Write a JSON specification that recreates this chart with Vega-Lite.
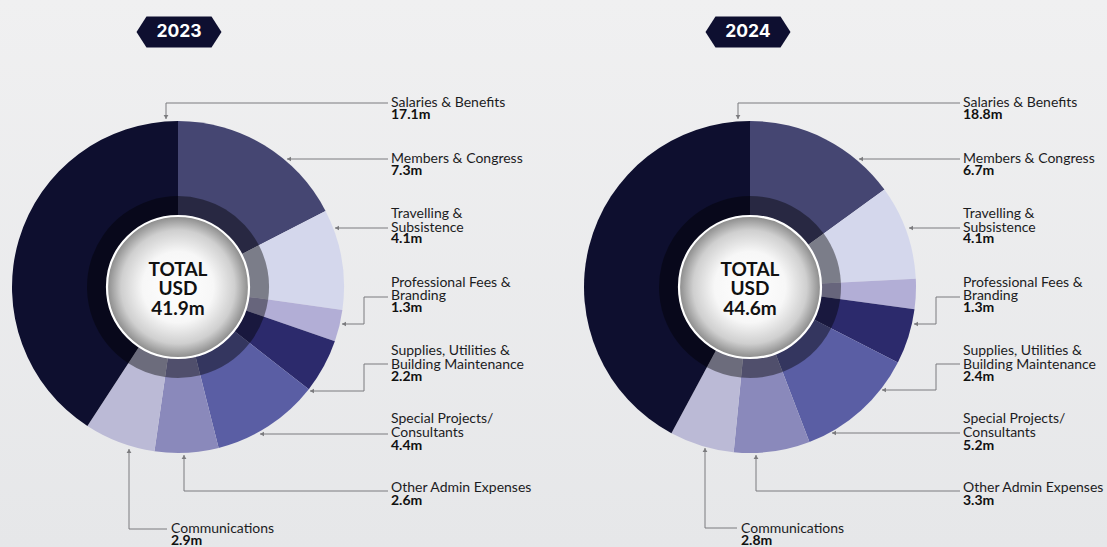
{
  "$schema": "https://vega.github.io/schema/vega-lite/v6.json",
  "background": "#ecedee",
  "padding": 0,
  "spacing": 0,
  "config": {
    "view": {"stroke": null, "fill": {"gradient": "linear", "x1": 0, "y1": 0, "x2": 0, "y2": 1, "stops": [{"offset": 0, "color": "#f0f0f1"}, {"offset": 1, "color": "#e6e7e9"}]}},
    "text": {"font": "Lato"}
  },
  "datasets": {
    "slices": [
      {"year": 2023, "cat": "Members & Congress", "ord": 1, "value": 7.3},
      {"year": 2023, "cat": "Travelling & Subsistence", "ord": 2, "value": 4.1},
      {"year": 2023, "cat": "Professional Fees & Branding", "ord": 3, "value": 1.3},
      {"year": 2023, "cat": "Supplies, Utilities & Building Maintenance", "ord": 4, "value": 2.2},
      {"year": 2023, "cat": "Special Projects/Consultants", "ord": 5, "value": 4.4},
      {"year": 2023, "cat": "Other Admin Expenses", "ord": 6, "value": 2.6},
      {"year": 2023, "cat": "Communications", "ord": 7, "value": 2.9},
      {"year": 2023, "cat": "Salaries & Benefits", "ord": 8, "value": 17.1},
      {"year": 2024, "cat": "Members & Congress", "ord": 1, "value": 6.7},
      {"year": 2024, "cat": "Travelling & Subsistence", "ord": 2, "value": 4.1},
      {"year": 2024, "cat": "Professional Fees & Branding", "ord": 3, "value": 1.3},
      {"year": 2024, "cat": "Supplies, Utilities & Building Maintenance", "ord": 4, "value": 2.4},
      {"year": 2024, "cat": "Special Projects/Consultants", "ord": 5, "value": 5.2},
      {"year": 2024, "cat": "Other Admin Expenses", "ord": 6, "value": 3.3},
      {"year": 2024, "cat": "Communications", "ord": 7, "value": 2.8},
      {"year": 2024, "cat": "Salaries & Benefits", "ord": 8, "value": 18.8}
    ],
    "totals": [
      {"year": 2023, "badge": "2023", "bx": 1, "by": -255, "label": "TOTAL\nUSD\n41.9m"},
      {"year": 2024, "badge": "2024", "bx": -2, "by": -255, "label": "TOTAL\nUSD\n44.6m"}
    ],
    "labels": [
      {"year": 2023, "cat": "Salaries & Benefits", "name": "Salaries & Benefits", "val": "17.1m", "lx": 213, "ny": -185, "vy": -172},
      {"year": 2023, "cat": "Members & Congress", "name": "Members & Congress", "val": "7.3m", "lx": 213, "ny": -129, "vy": -116},
      {"year": 2023, "cat": "Travelling & Subsistence", "name": "Travelling &\nSubsistence", "val": "4.1m", "lx": 213, "ny": -74, "vy": -48},
      {"year": 2023, "cat": "Professional Fees & Branding", "name": "Professional Fees &\nBranding", "val": "1.3m", "lx": 213, "ny": -5.5, "vy": 21},
      {"year": 2023, "cat": "Supplies, Utilities & Building Maintenance", "name": "Supplies, Utilities &\nBuilding Maintenance", "val": "2.2m", "lx": 213, "ny": 63, "vy": 90},
      {"year": 2023, "cat": "Special Projects/Consultants", "name": "Special Projects/\nConsultants", "val": "4.4m", "lx": 213, "ny": 131, "vy": 159},
      {"year": 2023, "cat": "Other Admin Expenses", "name": "Other Admin Expenses", "val": "2.6m", "lx": 213, "ny": 200, "vy": 214},
      {"year": 2023, "cat": "Communications", "name": "Communications", "val": "2.9m", "lx": -7, "ny": 241, "vy": 254},
      {"year": 2024, "cat": "Salaries & Benefits", "name": "Salaries & Benefits", "val": "18.8m", "lx": 213, "ny": -185, "vy": -172},
      {"year": 2024, "cat": "Members & Congress", "name": "Members & Congress", "val": "6.7m", "lx": 213, "ny": -129, "vy": -116},
      {"year": 2024, "cat": "Travelling & Subsistence", "name": "Travelling &\nSubsistence", "val": "4.1m", "lx": 213, "ny": -74, "vy": -48},
      {"year": 2024, "cat": "Professional Fees & Branding", "name": "Professional Fees &\nBranding", "val": "1.3m", "lx": 213, "ny": -5.5, "vy": 21},
      {"year": 2024, "cat": "Supplies, Utilities & Building Maintenance", "name": "Supplies, Utilities &\nBuilding Maintenance", "val": "2.4m", "lx": 213, "ny": 63, "vy": 90},
      {"year": 2024, "cat": "Special Projects/Consultants", "name": "Special Projects/\nConsultants", "val": "5.2m", "lx": 213, "ny": 131, "vy": 159},
      {"year": 2024, "cat": "Other Admin Expenses", "name": "Other Admin Expenses", "val": "3.3m", "lx": 213, "ny": 200, "vy": 214},
      {"year": 2024, "cat": "Communications", "name": "Communications", "val": "2.8m", "lx": -9, "ny": 241, "vy": 254}
    ],
    "leaders": [
      {"year": 2023, "cat": "Salaries & Benefits", "seq": 1, "x": 210, "y": -184},
      {"year": 2023, "cat": "Salaries & Benefits", "seq": 2, "x": -12, "y": -184},
      {"year": 2023, "cat": "Salaries & Benefits", "seq": 3, "x": -12, "y": -168},
      {"year": 2023, "cat": "Members & Congress", "seq": 1, "x": 210, "y": -128},
      {"year": 2023, "cat": "Members & Congress", "seq": 2, "x": 109, "y": -128},
      {"year": 2023, "cat": "Travelling & Subsistence", "seq": 1, "x": 210, "y": -59},
      {"year": 2023, "cat": "Travelling & Subsistence", "seq": 2, "x": 157, "y": -59},
      {"year": 2023, "cat": "Professional Fees & Branding", "seq": 1, "x": 210, "y": 10},
      {"year": 2023, "cat": "Professional Fees & Branding", "seq": 2, "x": 186, "y": 10},
      {"year": 2023, "cat": "Professional Fees & Branding", "seq": 3, "x": 186, "y": 37},
      {"year": 2023, "cat": "Professional Fees & Branding", "seq": 4, "x": 164, "y": 37},
      {"year": 2023, "cat": "Supplies, Utilities & Building Maintenance", "seq": 1, "x": 210, "y": 77},
      {"year": 2023, "cat": "Supplies, Utilities & Building Maintenance", "seq": 2, "x": 186, "y": 77},
      {"year": 2023, "cat": "Supplies, Utilities & Building Maintenance", "seq": 3, "x": 186, "y": 104},
      {"year": 2023, "cat": "Supplies, Utilities & Building Maintenance", "seq": 4, "x": 132, "y": 104},
      {"year": 2023, "cat": "Special Projects/Consultants", "seq": 1, "x": 210, "y": 147},
      {"year": 2023, "cat": "Special Projects/Consultants", "seq": 2, "x": 82, "y": 147},
      {"year": 2023, "cat": "Other Admin Expenses", "seq": 1, "x": 210, "y": 204},
      {"year": 2023, "cat": "Other Admin Expenses", "seq": 2, "x": 6, "y": 204},
      {"year": 2023, "cat": "Other Admin Expenses", "seq": 3, "x": 6, "y": 168},
      {"year": 2023, "cat": "Communications", "seq": 1, "x": -11, "y": 242},
      {"year": 2023, "cat": "Communications", "seq": 2, "x": -49, "y": 242},
      {"year": 2023, "cat": "Communications", "seq": 3, "x": -49, "y": 162},
      {"year": 2024, "cat": "Salaries & Benefits", "seq": 1, "x": 210, "y": -184},
      {"year": 2024, "cat": "Salaries & Benefits", "seq": 2, "x": -12, "y": -184},
      {"year": 2024, "cat": "Salaries & Benefits", "seq": 3, "x": -12, "y": -168},
      {"year": 2024, "cat": "Members & Congress", "seq": 1, "x": 210, "y": -128},
      {"year": 2024, "cat": "Members & Congress", "seq": 2, "x": 109, "y": -128},
      {"year": 2024, "cat": "Travelling & Subsistence", "seq": 1, "x": 210, "y": -59},
      {"year": 2024, "cat": "Travelling & Subsistence", "seq": 2, "x": 159, "y": -59},
      {"year": 2024, "cat": "Professional Fees & Branding", "seq": 1, "x": 210, "y": 10},
      {"year": 2024, "cat": "Professional Fees & Branding", "seq": 2, "x": 186, "y": 10},
      {"year": 2024, "cat": "Professional Fees & Branding", "seq": 3, "x": 186, "y": 37},
      {"year": 2024, "cat": "Professional Fees & Branding", "seq": 4, "x": 164, "y": 37},
      {"year": 2024, "cat": "Supplies, Utilities & Building Maintenance", "seq": 1, "x": 210, "y": 77},
      {"year": 2024, "cat": "Supplies, Utilities & Building Maintenance", "seq": 2, "x": 186, "y": 77},
      {"year": 2024, "cat": "Supplies, Utilities & Building Maintenance", "seq": 3, "x": 186, "y": 103},
      {"year": 2024, "cat": "Supplies, Utilities & Building Maintenance", "seq": 4, "x": 132, "y": 103},
      {"year": 2024, "cat": "Special Projects/Consultants", "seq": 1, "x": 210, "y": 146},
      {"year": 2024, "cat": "Special Projects/Consultants", "seq": 2, "x": 82, "y": 146},
      {"year": 2024, "cat": "Other Admin Expenses", "seq": 1, "x": 210, "y": 204},
      {"year": 2024, "cat": "Other Admin Expenses", "seq": 2, "x": 6, "y": 204},
      {"year": 2024, "cat": "Other Admin Expenses", "seq": 3, "x": 6, "y": 168},
      {"year": 2024, "cat": "Communications", "seq": 1, "x": -13, "y": 241},
      {"year": 2024, "cat": "Communications", "seq": 2, "x": -45, "y": 241},
      {"year": 2024, "cat": "Communications", "seq": 3, "x": -45, "y": 161}
    ],
    "arrows": [
      {"year": 2023, "cat": "Salaries & Benefits", "dir": "down", "x": -12, "y": -170},
      {"year": 2023, "cat": "Members & Congress", "dir": "left", "x": 111, "y": -128},
      {"year": 2023, "cat": "Travelling & Subsistence", "dir": "left", "x": 159, "y": -59},
      {"year": 2023, "cat": "Professional Fees & Branding", "dir": "left", "x": 166, "y": 37},
      {"year": 2023, "cat": "Supplies, Utilities & Building Maintenance", "dir": "left", "x": 134, "y": 104},
      {"year": 2023, "cat": "Special Projects/Consultants", "dir": "left", "x": 84, "y": 147},
      {"year": 2023, "cat": "Other Admin Expenses", "dir": "up", "x": 6, "y": 170},
      {"year": 2023, "cat": "Communications", "dir": "up", "x": -49, "y": 164},
      {"year": 2024, "cat": "Salaries & Benefits", "dir": "down", "x": -12, "y": -170},
      {"year": 2024, "cat": "Members & Congress", "dir": "left", "x": 111, "y": -128},
      {"year": 2024, "cat": "Travelling & Subsistence", "dir": "left", "x": 161, "y": -59},
      {"year": 2024, "cat": "Professional Fees & Branding", "dir": "left", "x": 166, "y": 37},
      {"year": 2024, "cat": "Supplies, Utilities & Building Maintenance", "dir": "left", "x": 134, "y": 103},
      {"year": 2024, "cat": "Special Projects/Consultants", "dir": "left", "x": 84, "y": 146},
      {"year": 2024, "cat": "Other Admin Expenses", "dir": "up", "x": 6, "y": 170},
      {"year": 2024, "cat": "Communications", "dir": "up", "x": -45, "y": 163}
    ]
  },
  "hconcat": [
    {
      "width": 572,
      "height": 547,
      "layer": [
        {
          "data": {"name": "slices"},
          "transform": [{"filter": "datum.year == 2023"}],
          "mark": {"type": "arc", "outerRadius": 166},
          "encoding": {
            "theta": {"field": "value", "type": "quantitative", "stack": true},
            "order": {"field": "ord", "type": "quantitative"},
            "color": {"field": "cat", "type": "nominal", "legend": null, "scale": {"domain": ["Members & Congress", "Travelling & Subsistence", "Professional Fees & Branding", "Supplies, Utilities & Building Maintenance", "Special Projects/Consultants", "Other Admin Expenses", "Communications", "Salaries & Benefits"], "range": ["#454672", "#d4d7ec", "#b2aed6", "#2c2a6c", "#5a5ea4", "#8a89bb", "#bbbad6", "#0e0f2f"]}},
            "x": {"datum": 0, "type": "quantitative", "scale": {"domain": [-178, 394], "nice": false, "zero": false}, "axis": null},
            "y": {"datum": 0, "type": "quantitative", "scale": {"domain": [-287, 260], "nice": false, "zero": false, "reverse": true}, "axis": null}
          }
        },
        {
          "data": {"name": "slices"},
          "transform": [{"filter": "datum.year == 2023"}],
          "mark": {"type": "arc", "outerRadius": 91, "color": "#000000", "opacity": 0.42},
          "encoding": {
            "theta": {"field": "value", "type": "quantitative", "stack": true},
            "order": {"field": "ord", "type": "quantitative"},
            "x": {"datum": 0, "type": "quantitative"},
            "y": {"datum": 0, "type": "quantitative"}
          }
        },
        {
          "data": {"name": "totals"},
          "transform": [{"filter": "datum.year == 2023"}],
          "mark": {"type": "point", "shape": "circle", "size": 20164, "filled": true, "opacity": 1, "fill": {"gradient": "radial", "x1": 0.5, "y1": 0.5, "r1": 0, "x2": 0.5, "y2": 0.5, "r2": 0.5, "stops": [{"offset": 0, "color": "#ffffff"}, {"offset": 0.5, "color": "#f7f7f7"}, {"offset": 0.8, "color": "#cfcfcf"}, {"offset": 1, "color": "#8a8a8a"}]}, "stroke": "#ffffff", "strokeWidth": 2.2},
          "encoding": {
            "x": {"datum": 0, "type": "quantitative"},
            "y": {"datum": 0, "type": "quantitative"}
          }
        },
        {
          "data": {"name": "totals"},
          "transform": [{"filter": "datum.year == 2023"}],
          "mark": {"type": "text", "lineBreak": "\n", "fontSize": 19, "fontWeight": "bold", "lineHeight": 19.5, "align": "center", "baseline": "middle", "dy": -19.5, "color": "#111111"},
          "encoding": {
            "x": {"datum": 0, "type": "quantitative"},
            "y": {"datum": 2, "type": "quantitative"},
            "text": {"field": "label"}
          }
        },
        {
          "data": {"name": "leaders"},
          "transform": [{"filter": "datum.year == 2023"}],
          "mark": {"type": "line", "color": "#7b7b7e", "strokeWidth": 1},
          "encoding": {
            "x": {"field": "x", "type": "quantitative"},
            "y": {"field": "y", "type": "quantitative"},
            "detail": {"field": "cat"},
            "order": {"field": "seq", "type": "quantitative"}
          }
        },
        {
          "data": {"name": "arrows"},
          "transform": [{"filter": "datum.year == 2023"}],
          "mark": {"type": "point", "filled": true, "size": 22, "color": "#7b7b7e", "opacity": 1},
          "encoding": {
            "x": {"field": "x", "type": "quantitative"},
            "y": {"field": "y", "type": "quantitative"},
            "shape": {"field": "dir", "type": "nominal", "legend": null, "scale": {"domain": ["down", "left", "up"], "range": ["triangle-down", "triangle-left", "triangle-up"]}}
          }
        },
        {
          "data": {"name": "labels"},
          "transform": [{"filter": "datum.year == 2023"}],
          "mark": {"type": "text", "lineBreak": "\n", "fontSize": 14, "lineHeight": 13.5, "align": "left", "baseline": "top", "dy": -6, "color": "#1c1c1e"},
          "encoding": {
            "x": {"field": "lx", "type": "quantitative"},
            "y": {"field": "ny", "type": "quantitative"},
            "text": {"field": "name"}
          }
        },
        {
          "data": {"name": "labels"},
          "transform": [{"filter": "datum.year == 2023"}],
          "mark": {"type": "text", "fontSize": 14, "fontWeight": "bold", "align": "left", "baseline": "middle", "color": "#111111"},
          "encoding": {
            "x": {"field": "lx", "type": "quantitative"},
            "y": {"field": "vy", "type": "quantitative"},
            "text": {"field": "val"}
          }
        },
        {
          "data": {"name": "totals"},
          "transform": [{"filter": "datum.year == 2023"}],
          "mark": {"type": "point", "shape": "M-1,0L-0.765,-0.365L0.765,-0.365L1,0L0.765,0.365L-0.765,0.365Z", "size": 7225, "filled": true, "opacity": 1, "color": "#0e0f30"},
          "encoding": {
            "x": {"field": "bx", "type": "quantitative"},
            "y": {"field": "by", "type": "quantitative"}
          }
        },
        {
          "data": {"name": "totals"},
          "transform": [{"filter": "datum.year == 2023"}],
          "mark": {"type": "text", "font": "Inter", "fontSize": 17.5, "fontWeight": "bold", "align": "center", "baseline": "middle", "color": "#ffffff"},
          "encoding": {
            "x": {"field": "bx", "type": "quantitative"},
            "y": {"field": "by", "type": "quantitative"},
            "text": {"field": "badge"}
          }
        }
      ]
    },
    {
      "width": 535,
      "height": 547,
      "layer": [
        {
          "data": {"name": "slices"},
          "transform": [{"filter": "datum.year == 2024"}],
          "mark": {"type": "arc", "outerRadius": 166},
          "encoding": {
            "theta": {"field": "value", "type": "quantitative", "stack": true},
            "order": {"field": "ord", "type": "quantitative"},
            "color": {"field": "cat", "type": "nominal", "legend": null, "scale": {"domain": ["Members & Congress", "Travelling & Subsistence", "Professional Fees & Branding", "Supplies, Utilities & Building Maintenance", "Special Projects/Consultants", "Other Admin Expenses", "Communications", "Salaries & Benefits"], "range": ["#454672", "#d4d7ec", "#b2aed6", "#2c2a6c", "#5a5ea4", "#8a89bb", "#bbbad6", "#0e0f2f"]}},
            "x": {"datum": 0, "type": "quantitative", "scale": {"domain": [-178, 357], "nice": false, "zero": false}, "axis": null},
            "y": {"datum": 0, "type": "quantitative", "scale": {"domain": [-287, 260], "nice": false, "zero": false, "reverse": true}, "axis": null}
          }
        },
        {
          "data": {"name": "slices"},
          "transform": [{"filter": "datum.year == 2024"}],
          "mark": {"type": "arc", "outerRadius": 91, "color": "#000000", "opacity": 0.42},
          "encoding": {
            "theta": {"field": "value", "type": "quantitative", "stack": true},
            "order": {"field": "ord", "type": "quantitative"},
            "x": {"datum": 0, "type": "quantitative"},
            "y": {"datum": 0, "type": "quantitative"}
          }
        },
        {
          "data": {"name": "totals"},
          "transform": [{"filter": "datum.year == 2024"}],
          "mark": {"type": "point", "shape": "circle", "size": 20164, "filled": true, "opacity": 1, "fill": {"gradient": "radial", "x1": 0.5, "y1": 0.5, "r1": 0, "x2": 0.5, "y2": 0.5, "r2": 0.5, "stops": [{"offset": 0, "color": "#ffffff"}, {"offset": 0.5, "color": "#f7f7f7"}, {"offset": 0.8, "color": "#cfcfcf"}, {"offset": 1, "color": "#8a8a8a"}]}, "stroke": "#ffffff", "strokeWidth": 2.2},
          "encoding": {
            "x": {"datum": 0, "type": "quantitative"},
            "y": {"datum": 0, "type": "quantitative"}
          }
        },
        {
          "data": {"name": "totals"},
          "transform": [{"filter": "datum.year == 2024"}],
          "mark": {"type": "text", "lineBreak": "\n", "fontSize": 19, "fontWeight": "bold", "lineHeight": 19.5, "align": "center", "baseline": "middle", "dy": -19.5, "color": "#111111"},
          "encoding": {
            "x": {"datum": 0, "type": "quantitative"},
            "y": {"datum": 2, "type": "quantitative"},
            "text": {"field": "label"}
          }
        },
        {
          "data": {"name": "leaders"},
          "transform": [{"filter": "datum.year == 2024"}],
          "mark": {"type": "line", "color": "#7b7b7e", "strokeWidth": 1},
          "encoding": {
            "x": {"field": "x", "type": "quantitative"},
            "y": {"field": "y", "type": "quantitative"},
            "detail": {"field": "cat"},
            "order": {"field": "seq", "type": "quantitative"}
          }
        },
        {
          "data": {"name": "arrows"},
          "transform": [{"filter": "datum.year == 2024"}],
          "mark": {"type": "point", "filled": true, "size": 22, "color": "#7b7b7e", "opacity": 1},
          "encoding": {
            "x": {"field": "x", "type": "quantitative"},
            "y": {"field": "y", "type": "quantitative"},
            "shape": {"field": "dir", "type": "nominal", "legend": null, "scale": {"domain": ["down", "left", "up"], "range": ["triangle-down", "triangle-left", "triangle-up"]}}
          }
        },
        {
          "data": {"name": "labels"},
          "transform": [{"filter": "datum.year == 2024"}],
          "mark": {"type": "text", "lineBreak": "\n", "fontSize": 14, "lineHeight": 13.5, "align": "left", "baseline": "top", "dy": -6, "color": "#1c1c1e"},
          "encoding": {
            "x": {"field": "lx", "type": "quantitative"},
            "y": {"field": "ny", "type": "quantitative"},
            "text": {"field": "name"}
          }
        },
        {
          "data": {"name": "labels"},
          "transform": [{"filter": "datum.year == 2024"}],
          "mark": {"type": "text", "fontSize": 14, "fontWeight": "bold", "align": "left", "baseline": "middle", "color": "#111111"},
          "encoding": {
            "x": {"field": "lx", "type": "quantitative"},
            "y": {"field": "vy", "type": "quantitative"},
            "text": {"field": "val"}
          }
        },
        {
          "data": {"name": "totals"},
          "transform": [{"filter": "datum.year == 2024"}],
          "mark": {"type": "point", "shape": "M-1,0L-0.765,-0.365L0.765,-0.365L1,0L0.765,0.365L-0.765,0.365Z", "size": 7225, "filled": true, "opacity": 1, "color": "#0e0f30"},
          "encoding": {
            "x": {"field": "bx", "type": "quantitative"},
            "y": {"field": "by", "type": "quantitative"}
          }
        },
        {
          "data": {"name": "totals"},
          "transform": [{"filter": "datum.year == 2024"}],
          "mark": {"type": "text", "font": "Inter", "fontSize": 17.5, "fontWeight": "bold", "align": "center", "baseline": "middle", "color": "#ffffff"},
          "encoding": {
            "x": {"field": "bx", "type": "quantitative"},
            "y": {"field": "by", "type": "quantitative"},
            "text": {"field": "badge"}
          }
        }
      ]
    }
  ]
}
